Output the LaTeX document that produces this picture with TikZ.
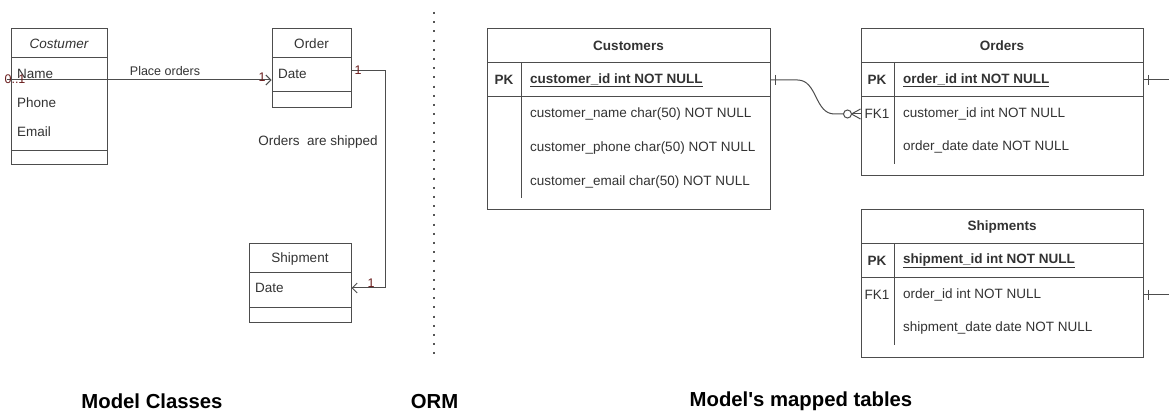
\documentclass[tikz,border=0pt]{standalone}
\usepackage{fontspec}
\setmainfont{Liberation Sans}
\newfontfamily\capfont{Liberation Sans}[Ligatures=TeXOff]
\usetikzlibrary{arrows.meta,calc}
\definecolor{ink}{HTML}{333333}
\definecolor{edge}{HTML}{4D4D4D}
\definecolor{mult}{HTML}{6B1E1E}
\definecolor{dots}{HTML}{555555}

\begin{document}
\begin{tikzpicture}[x=1pt,y=-1pt,
  frame/.style={draw=edge, line width=1pt, inner sep=0pt, fill=white},
  txt/.style={inner sep=0pt, text=ink, font=\fontsize{13.5}{16}\selectfont},
  lbl/.style={txt, anchor=west},
  ttl/.style={txt, font=\fontsize{13.5}{16}\selectfont\bfseries},
  keylbl/.style={ttl, anchor=west},
  rule/.style={draw=edge, line width=1pt},
  link/.style={draw=edge, line width=1pt},
  barb/.style={-{Straight Barb[length=5pt,width=10pt]}},
  mlt/.style={inner sep=0pt, text=mult, font=\fontsize{12.5}{14}\selectfont},
  caption/.style={inner sep=0pt, font=\capfont\fontsize{20.3}{24}\selectfont\bfseries}
]
\useasboundingbox[fill=white] (0,0) rectangle (1169,411);

% ---------- UML classes ----------
\node[frame, minimum width=96pt, minimum height=136pt] (cust) at (59,97) {};
\draw[rule] (11,58) -- (107,58);
\draw[rule] (11,151) -- (107,151);
\node[txt, font=\fontsize{13.5}{16}\selectfont\itshape] (custName) at (59,44) {Costumer};
\node[lbl] (custA1) at (17,74) {Name};
\node[lbl] (custA2) at (17,103) {Phone};
\node[lbl] (custA3) at (17,132) {Email};

\node[frame, minimum width=79pt, minimum height=79pt] (ord) at (311.5,68.5) {};
\draw[rule] (272,58) -- (351,58);
\draw[rule] (272,92) -- (351,92);
\node[txt] (ordName) at (311.5,44) {Order};
\node[lbl] (ordA1) at (278,74) {Date};

\node[frame, minimum width=102pt, minimum height=79pt] (shp) at (300,283.5) {};
\draw[rule] (249,273) -- (351,273);
\draw[rule] (249,308) -- (351,308);
\node[txt] (shpName) at (300,259) {Shipment};
\node[lbl] (shpA1) at (255,288) {Date};

% association rows
\coordinate (rowPlace) at (0,80);
\coordinate (rowShipA) at (0,71);
\coordinate (rowShipB) at (0,288);
\coordinate (placeStart) at (7,80);

\draw[link, barb] (placeStart) -- (ord.west |- rowPlace);
\node[mlt] (m01) at (15,79) {0..1};
\node[mlt] (m1a) at (262,77) {1};
\node[txt, font=\fontsize{12.5}{15}\selectfont] (placeLbl) at (165,71) {Place orders};

\draw[link, barb] (ord.east |- rowShipA) -- ++(34,0) |- (shp.east |- rowShipB);
\node[mlt] (m1b) at (358,70) {1};
\node[mlt] (m1c) at (371,283) {1};
\node[txt] (shipLbl) at (318,142) {Orders\ \ are shipped};

% ---------- separator ----------
\coordinate (sepTop) at (434,12);
\coordinate (sepBot) at (434,357);
\draw[dots, line width=2pt, dash pattern=on 2pt off 7.2pt] (sepTop) -- (sepBot);

% ---------- ER tables ----------
% Customers
\node[frame, minimum width=283pt, minimum height=181pt] (custT) at (628.5,119.5) {};
\draw[rule] (487,63) -- (770,63);
\draw[rule] (487,97) -- (770,97);
\draw[rule] (521,63) -- (521,198);
\node[ttl] (custTt) at (628.5,46) {Customers};
\node[ttl] (custPK) at (504,80) {PK};
\node[keylbl] (custK) at (530,80) {\underline{customer\_id int NOT NULL}};
\node[lbl] (custR1) at (530,114) {customer\_name char(50) NOT NULL};
\node[lbl] (custR2) at (530,148) {customer\_phone char(50) NOT NULL};
\node[lbl] (custR3) at (530,182) {customer\_email char(50) NOT NULL};

% Orders
\node[frame, minimum width=282pt, minimum height=147pt] (ordT) at (1002,102.5) {};
\draw[rule] (861,63) -- (1143,63);
\draw[rule] (861,97) -- (1143,97);
\draw[rule] (894,63) -- (894,164);
\node[ttl] (ordTt) at (1002,46) {Orders};
\node[ttl] (ordPK) at (877,80) {PK};
\node[keylbl] (ordK) at (903,80) {\underline{order\_id int NOT NULL}};
\node[txt] (ordFK) at (877,114) {FK1};
\node[lbl] (ordR1) at (903,114) {customer\_id int NOT NULL};
\node[lbl] (ordR2) at (903,147) {order\_date date NOT NULL};

% Shipments
\node[frame, minimum width=282pt, minimum height=147pt] (shpT) at (1002,283.5) {};
\draw[rule] (861,244) -- (1143,244);
\draw[rule] (861,278) -- (1143,278);
\draw[rule] (894,244) -- (894,345);
\node[ttl] (shpTt) at (1002,227) {Shipments};
\node[ttl] (shpPK) at (877,261) {PK};
\node[keylbl] (shpK) at (903,261) {\underline{shipment\_id int NOT NULL}};
\node[txt] (shpFK) at (877,295) {FK1};
\node[lbl] (shpR1) at (903,295) {order\_id int NOT NULL};
\node[lbl] (shpR2) at (903,328) {shipment\_date date NOT NULL};

% relationship rows
\coordinate (yC) at (0,80);
\coordinate (yF) at (0,114);
\coordinate (yS) at (0,295);
\coordinate (offA) at (1169,80);
\coordinate (offB) at (1169,295);

% Customers 1 --- 0..* Orders
\draw[link] (custT.east |- yC) -- ++(27,0)
  .. controls +(20,0) and +(-20,0) .. ($(ordT.west |- yF)+(-26,0)$)
  -- ($(ordT.west |- yF)+(-17,0)$);
\draw[link] ($(custT.east |- yC)+(5,-5)$) -- ++(0,10);
\draw[link] ($(ordT.west |- yF)+(-13,0)$) circle (4);
\draw[link] ($(ordT.west |- yF)+(-9,0)$) -- (ordT.west |- yF);
\draw[link] ($(ordT.west |- yF)+(-9,0)$) -- ($(ordT.west |- yF)+(0,-5)$);
\draw[link] ($(ordT.west |- yF)+(-9,0)$) -- ($(ordT.west |- yF)+(0,5)$);

% Orders and Shipments, continuing off the right edge
\draw[link] (ordT.east |- yC) -- (offA);
\draw[link] ($(ordT.east |- yC)+(5,-5)$) -- ++(0,10);
\draw[link] (shpT.east |- yS) -- (offB);
\draw[link] ($(shpT.east |- yS)+(5,-5)$) -- ++(0,10);

% ---------- captions ----------
\node[caption] (capA) at (152,401) {Model Classes};
\node[caption] (capB) at (434.5,402) {ORM};
\node[caption] (capC) at (801,401) {Model's mapped tables};
\end{tikzpicture}
\end{document}
